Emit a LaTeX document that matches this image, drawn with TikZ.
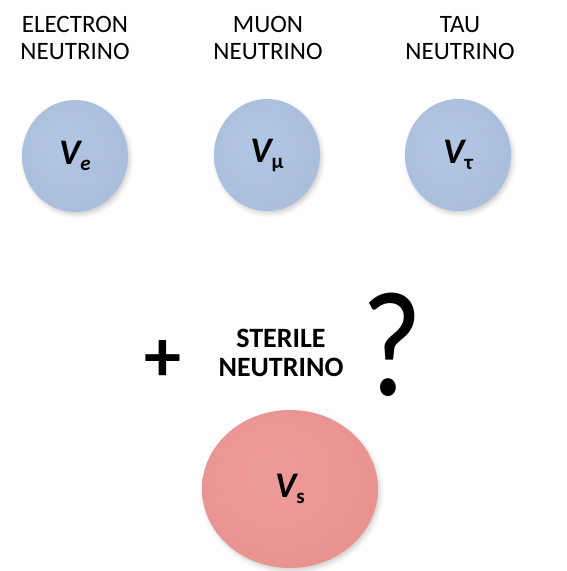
\documentclass[tikz,border=0pt]{standalone}
\usepackage{fontspec}
\setmainfont{Carlito}
\usetikzlibrary{shapes.geometric,shadows.blur}

% soft ball shadings, light spot a little up and left
\pgfdeclareradialshading{nublueball}{\pgfpoint{-6bp}{6bp}}{%
  rgb(0bp)=(0.70,0.78,0.89); rgb(34bp)=(0.66,0.74,0.86);
  rgb(46bp)=(0.61,0.69,0.83); rgb(52bp)=(0.55,0.64,0.78); rgb(60bp)=(0.55,0.64,0.78)}
\pgfdeclareradialshading{nuredball}{\pgfpoint{-6bp}{6bp}}{%
  rgb(0bp)=(0.93,0.61,0.60); rgb(34bp)=(0.91,0.57,0.56);
  rgb(46bp)=(0.87,0.52,0.50); rgb(52bp)=(0.80,0.45,0.44); rgb(60bp)=(0.80,0.45,0.44)}

\tikzset{
  flavour/.style={align=center, font=\fontsize{25}{27}\selectfont},
  sterile/.style={align=center, font=\fontsize{28}{29}\selectfont\bfseries},
  ball/.style={ellipse, inner sep=0pt,
    blur shadow={shadow xshift=2pt, shadow yshift=-3pt, shadow blur radius=4pt, shadow opacity=18},
    font=\fontsize{36}{36}\selectfont\bfseries\itshape},
  bluebal/.style={ball, minimum width=106pt, minimum height=112pt, shading=nublueball},
  redbal/.style={ball, minimum width=176pt, minimum height=158pt, shading=nuredball},
}
\newcommand{\nusub}[1]{\raisebox{-6pt}{\fontsize{21}{21}\selectfont #1}}

\begin{document}
\begin{tikzpicture}[x=1pt, y=-1pt]
  \useasboundingbox (0,0) rectangle (567,571);
  % flavour labels
  \node[flavour] (lble) at (75,38) {ELECTRON\\NEUTRINO};
  \node[flavour] (lblmu) at (268,38) {MUON\\NEUTRINO};
  \node[flavour] (lbltau) at (460,38) {TAU\\NEUTRINO};
  % the three neutrinos
  \node[bluebal] (nue) at (75,156) {V\nusub{e}};
  \node[bluebal] (numu) at (267,155) {V\nusub{\upshape μ}};
  \node[bluebal] (nutau) at (458,155) {V\nusub{\upshape τ}};
  % sterile neutrino
  \node[font=\fontsize{74}{74}\selectfont\bfseries] (plus) at (163,361) {+};
  \node[sterile] (lbls) at (281,353) {STERILE\\NEUTRINO};
  \node[font=\fontsize{150}{150}\selectfont, xscale=0.88] (quest) at (392,345) {?};
  \node[redbal] (nus) at (290,489) {V\nusub{\upshape s}};
\end{tikzpicture}
\end{document}
